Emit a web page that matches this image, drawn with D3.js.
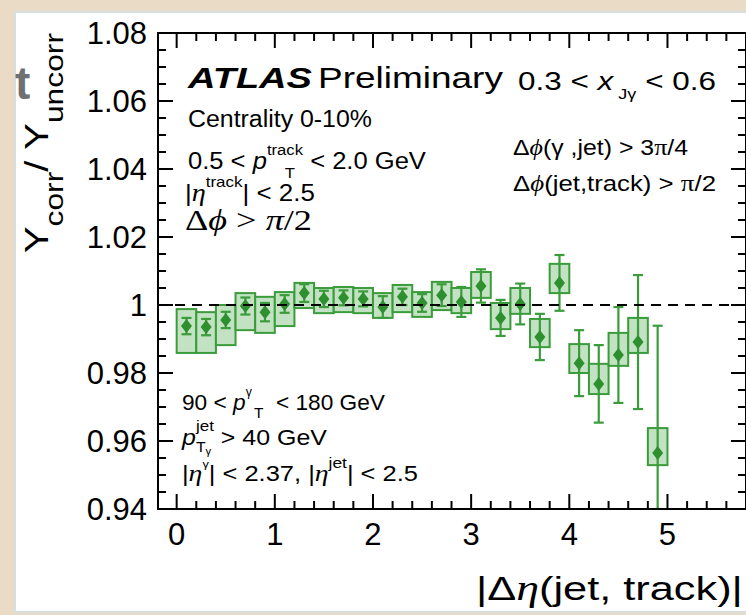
<!DOCTYPE html>
<html><head><meta charset="utf-8">
<script src="https://cdn.jsdelivr.net/npm/d3@7"></script>
<style>body{margin:0;padding:0;overflow:hidden;background:#fff} text{white-space:pre}</style>
</head><body>
<svg id="c" width="746" height="615"></svg>
<script>
// ---------------- data ----------------
const binCenters = [0.1,0.3,0.5,0.7,0.9,1.1,1.3,1.5,1.7,1.9,2.1,2.3,2.5,2.7,2.9,3.1,3.3,3.5,3.7,3.9,4.1,4.3,4.5,4.7,4.9];
const binHalfWidth = 0.1;
const ratio   = [0.9938,0.9935,0.9956,0.9997,0.9979,1.0003,1.0035,1.0018,1.0021,1.0018,0.9994,1.0024,1.0006,1.0029,1.0009,1.0056,0.9962,1.0003,0.9906,1.0065,0.9829,0.9768,0.9853,0.9891,0.9565];
const statErr = [0.0024,0.0024,0.0024,0.0025,0.0027,0.0026,0.0026,0.0024,0.0022,0.0022,0.0032,0.0024,0.0026,0.0032,0.0044,0.0049,0.0053,0.0060,0.0068,0.0082,0.0097,0.0114,0.0141,0.0197,0.0374];
const sysHigh = [0.9988,0.9979,1.0000,1.0035,1.0024,1.0038,1.0065,1.0050,1.0053,1.0050,1.0035,1.0059,1.0038,1.0068,1.0050,1.0097,1.0006,1.0050,0.9959,1.0121,0.9885,0.9827,0.9918,0.9962,0.9638];
const sysLow  = [0.9859,0.9859,0.9882,0.9926,0.9918,0.9938,0.9991,0.9976,0.9979,0.9976,0.9962,0.9979,0.9965,0.9985,0.9976,1.0021,0.9929,0.9974,0.9876,1.0035,0.9800,0.9738,0.9821,0.9859,0.9529];
const yTicks = [0.94,0.96,0.98,1.00,1.02,1.04,1.06,1.08];
const yTickLabels = ["0.94","0.96","0.98","1","1.02","1.04","1.06","1.08"];
const xTicks = [0,1,2,3,4,5];
const xTickLabels = ["0","1","2","3","4","5"];
const refLine = 1.0;

// ---------------- setup ----------------
const SANS = "'Liberation Sans', Arial, Helvetica, sans-serif";
const SERIF = "'Liberation Serif', 'Times New Roman', serif";
const GREEN = "#3a9c3a", FILL = "#c3e2c3", MARK = "#2d8f2d";
const svg = d3.select("#c");
const L = 158, R = 746, T = 33, B = 509;
const x = d3.scaleLinear().domain([-0.19, 5.8]).range([L, R]);
const y = d3.scaleLinear().domain([0.94, 1.08]).range([B, T]);

svg.append("rect").attr("width",746).attr("height",615).attr("fill","#eadbc6");
svg.append("rect").attr("x",15).attr("y",12).attr("width",740).attr("height",600)
  .attr("fill","#ffffff").attr("stroke","#d6dede").attr("stroke-width",2);
svg.append("text").attr("x",15).attr("y",99).attr("font-family",SANS).attr("font-weight","bold")
  .attr("font-size",46).attr("fill","#707070").text("t");

// rich text helper
function rich(parent, px, py, pieces, targetW, rot, sy) {
  const g = parent.append("g");
  let cx = 0, lastStart = 0, prevEnd = 0;
  pieces.forEach(p => {
    let start;
    if (p.mode === "stack") start = lastStart;
    else if (p.mode === "chain") start = prevEnd;
    else start = cx;
    start += (p.dx || 0);
    const t = g.append("text").attr("x", start).attr("y", p.dy || 0)
      .attr("xml:space", "preserve")
      .attr("font-size", p.fs).attr("font-family", p.ff || SANS)
      .attr("font-style", p.it ? "italic" : null)
      .attr("font-weight", p.b ? "bold" : null)
      .attr("fill", "#000").text(p.t);
    const w = t.node().getComputedTextLength();
    if (!p.mode) lastStart = start;
    prevEnd = start + w;
    cx = Math.max(cx, prevEnd);
  });
  const sx = targetW ? targetW / cx : 1;
  g.attr("transform", `translate(${px},${py})` + (rot ? ` rotate(${rot})` : "") + ` scale(${sx},${sy || 1})`);
  return g;
}

// ---------------- data marks ----------------
const plot = svg.append("g");
svg.append("clipPath").attr("id","clip").append("rect").attr("x",L).attr("y",T).attr("width",R-L).attr("height",B-T);
const dg = plot.append("g").attr("clip-path","url(#clip)");

binCenters.forEach((c, i) => {
  dg.append("rect")
    .attr("x", x(c - binHalfWidth)).attr("width", x(c + binHalfWidth) - x(c - binHalfWidth))
    .attr("y", y(sysHigh[i])).attr("height", y(sysLow[i]) - y(sysHigh[i]))
    .attr("fill", FILL).attr("stroke", GREEN).attr("stroke-width", 2);
});
binCenters.forEach((c, i) => {
  const hi = Math.min(ratio[i] + statErr[i], 1.08), lo = Math.max(ratio[i] - statErr[i], 0.94);
  const cxp = x(c);
  dg.append("line").attr("x1",cxp).attr("x2",cxp).attr("y1",y(hi)).attr("y2",y(lo))
    .attr("stroke",GREEN).attr("stroke-width",2.2);
  [hi, lo].forEach(v => {
    dg.append("line").attr("x1",cxp-5).attr("x2",cxp+5).attr("y1",y(v)).attr("y2",y(v))
      .attr("stroke",GREEN).attr("stroke-width",2.2);
  });
  const cy = y(ratio[i]);
  dg.append("path").attr("d", `M${cxp},${cy-7} L${cxp+5.5},${cy} L${cxp},${cy+7} L${cxp-5.5},${cy} Z`)
    .attr("fill", MARK);
});
dg.append("line").attr("x1",L).attr("x2",R).attr("y1",y(refLine)).attr("y2",y(refLine))
  .attr("stroke","#000").attr("stroke-width",2).attr("stroke-dasharray","10,7");

// ---------------- axes ----------------
const ax = svg.append("g").attr("stroke","#000").attr("stroke-width",2);
ax.append("rect").attr("x",L).attr("y",T).attr("width",R-L).attr("height",B-T).attr("fill","none");
x.ticks(30).filter(v => v >= -0.19 && v <= 5.8).forEach(v => {
  const major = Math.abs(v - Math.round(v)) < 1e-6;
  const len = major ? 15 : 8;
  ax.append("line").attr("x1",x(v)).attr("x2",x(v)).attr("y1",B).attr("y2",B-len);
  ax.append("line").attr("x1",x(v)).attr("x2",x(v)).attr("y1",T).attr("y2",T+len);
});
y.ticks(28).forEach(v => {
  const major = Math.abs(v*50 - Math.round(v*50)) < 1e-6;
  const len = major ? 15 : 8;
  ax.append("line").attr("x1",L).attr("x2",L+len).attr("y1",y(v)).attr("y2",y(v));
  ax.append("line").attr("x1",R).attr("x2",R-len).attr("y1",y(v)).attr("y2",y(v));
});
yTicks.forEach((v, i) => {
  svg.append("text").attr("x", 147).attr("y", y(v) + 11).attr("text-anchor","end")
    .attr("font-family",SANS).attr("font-size",31).attr("fill","#000").text(yTickLabels[i]);
});
xTicks.forEach((v, i) => {
  svg.append("text").attr("x", x(v)).attr("y", 545).attr("text-anchor","middle")
    .attr("font-family",SANS).attr("font-size",31).attr("fill","#000").text(xTickLabels[i]);
});

// ---------------- texts ----------------
const tg = svg.append("g");
rich(tg, 188, 88, [{t:"ATLAS", fs:30, b:1, it:1}], 124);
rich(tg, 318, 88, [{t:"Preliminary", fs:30}], 185);
rich(tg, 518, 90, [{t:"0.3 < ", fs:26},{t:"x", fs:26, it:1},{t:" Jγ", fs:15, dy:9},{t:" < 0.6", fs:26}], 198);
rich(tg, 188, 127, [{t:"Centrality 0-10%", fs:23}], 184);
rich(tg, 188, 169, [{t:"0.5 < ", fs:23},{t:"p", fs:23, it:1},{t:"track", fs:15, dy:-14},{t:"T", fs:15, dy:9, mode:"stack", dx:16},{t:" < 2.0 GeV", fs:23}], 238);
rich(tg, 185, 201, [{t:"|", fs:23},{t:"η", fs:25, it:1, ff:SERIF},{t:"track", fs:15, dy:-14},{t:"| < 2.5", fs:23}], 130);
rich(tg, 185, 230, [{t:"Δ", fs:29, ff:SERIF},{t:"ϕ", fs:29, it:1, ff:SERIF},{t:" > ", fs:29, ff:SERIF},{t:"π", fs:29, it:1, ff:SERIF},{t:"/2", fs:29, ff:SERIF}], 127);
rich(tg, 513, 155, [{t:"Δ", fs:22},{t:"ϕ", fs:23, it:1, ff:SERIF},{t:"(γ ,jet) > 3", fs:22},{t:"π", fs:23, ff:SERIF},{t:"/4", fs:22}], 175);
rich(tg, 513, 191, [{t:"Δ", fs:22},{t:"ϕ", fs:23, it:1, ff:SERIF},{t:"(jet,track) > ", fs:22},{t:"π", fs:23, ff:SERIF},{t:"/2", fs:22}], 203);
rich(tg, 182, 410, [{t:"90 < ", fs:22},{t:"p", fs:22, it:1},{t:"γ", fs:12, dy:-14},{t:"T", fs:15, dy:8, mode:"stack", dx:8},{t:"  < 180 GeV", fs:22}], 203);
rich(tg, 182, 445, [{t:"p", fs:22, it:1},{t:"jet", fs:15, dy:-14},{t:"T", fs:14, dy:7, mode:"stack"},{t:"γ", fs:10, dy:10, mode:"chain"},{t:" > 40 GeV", fs:22}], 145);
rich(tg, 182, 481, [{t:"|", fs:22},{t:"η", fs:24, it:1, ff:SERIF},{t:"γ", fs:11, dy:-13},{t:"| < 2.37, |", fs:22},{t:"η", fs:24, it:1, ff:SERIF},{t:"jet", fs:15, dy:-13},{t:"| < 2.5", fs:22}], 236);
rich(tg, 476, 600, [{t:"|", fs:34},{t:"Δ", fs:34},{t:"η", fs:36, it:1, ff:SERIF},{t:"(jet, track)|", fs:34}], 267);
rich(tg, 48, 253, [{t:"Y", fs:30},{t:"corr", fs:24, dy:14},{t:"/ ", fs:30},{t:"Y", fs:30},{t:"uncorr", fs:24, dy:14}], 220, -90, 1.1);
</script>
</body></html>
